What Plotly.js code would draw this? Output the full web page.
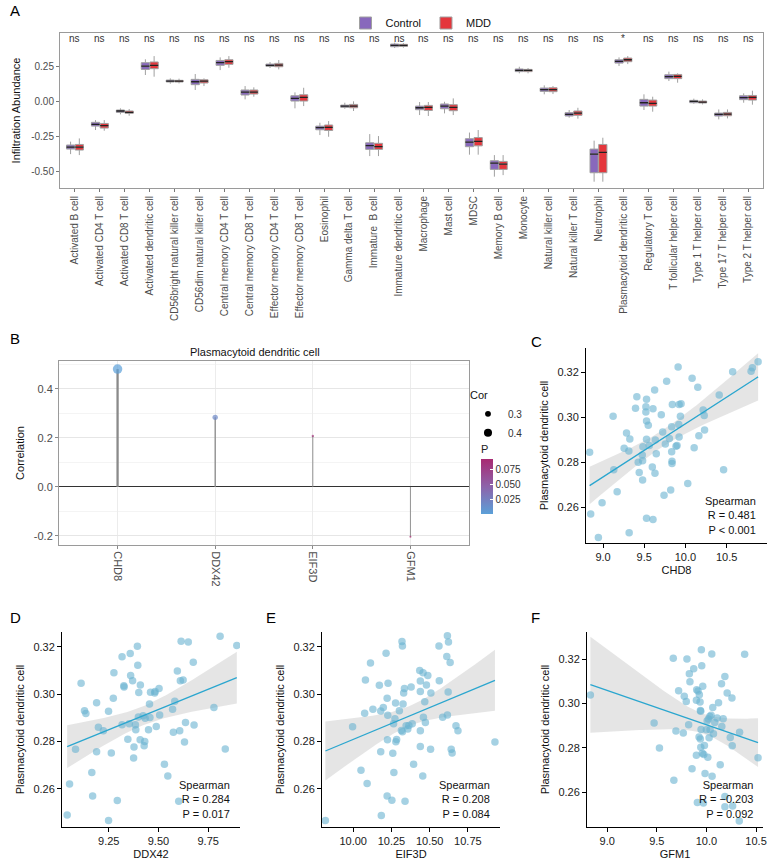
<!DOCTYPE html>
<html>
<head>
<meta charset="utf-8">
<script src="https://cdn.plot.ly/plotly-3.0.1.min.js"></script>
<style>
  html, body { margin: 0; padding: 0; background: #ffffff; }
  #fig { width: 768px; height: 862px; }
</style>
</head>
<body>
<div id="fig"></div>
<script>
// ---------- Panel A: immune infiltration, Control vs MDD ----------
const cellTypes = ["Activated B cell","Activated CD4 T cell","Activated CD8 T cell","Activated dendritic cell",
  "CD56bright natural killer cell","CD56dim natural killer cell","Central memory CD4 T cell","Central memory CD8 T cell",
  "Effector memory CD4 T cell","Effector memory CD8 T cell","Eosinophil","Gamma delta T cell","Immature  B cell",
  "Immature dendritic cell","Macrophage","Mast cell","MDSC","Memory B cell","Monocyte","Natural killer cell",
  "Natural killer T cell","Neutrophil","Plasmacytoid dendritic cell","Regulatory T cell","T follicular helper cell",
  "Type 1 T helper cell","Type 17 T helper cell","Type 2 T helper cell"];

const ctrlLower = [-0.379,-0.207,-0.095,0.186,0.124,0.079,0.221,0.012,0.236,-0.052,-0.243,-0.055,-0.393,0.379,-0.100,-0.088,-0.383,-0.540,0.198,0.048,-0.119,-0.576,0.250,-0.064,0.143,-0.019,-0.131,-0.012];
const ctrlQ1    = [-0.343,-0.179,-0.081,0.226,0.136,0.117,0.255,0.043,0.248,0.000,-0.205,-0.045,-0.345,0.388,-0.062,-0.055,-0.326,-0.488,0.210,0.069,-0.107,-0.512,0.271,-0.036,0.160,-0.012,-0.107,0.010];
const ctrlMed   = [-0.329,-0.167,-0.071,0.250,0.143,0.138,0.274,0.064,0.255,0.019,-0.190,-0.036,-0.319,0.398,-0.048,-0.036,-0.293,-0.443,0.219,0.081,-0.095,-0.379,0.283,-0.012,0.174,-0.002,-0.095,0.024];
const ctrlQ3    = [-0.314,-0.152,-0.064,0.274,0.150,0.155,0.290,0.079,0.264,0.038,-0.179,-0.029,-0.298,0.407,-0.036,-0.021,-0.269,-0.426,0.229,0.093,-0.083,-0.343,0.295,0.012,0.188,0.005,-0.086,0.038];
const ctrlUpper = [-0.290,-0.136,-0.052,0.298,0.162,0.193,0.312,0.107,0.279,0.062,-0.155,-0.012,-0.236,0.417,-0.007,-0.005,-0.225,-0.386,0.245,0.112,-0.064,-0.283,0.312,0.048,0.210,0.017,-0.060,0.055];

const mddLower = [-0.386,-0.212,-0.105,0.174,0.126,0.107,0.238,0.031,0.226,-0.036,-0.255,-0.071,-0.393,0.381,-0.107,-0.100,-0.383,-0.529,0.198,0.050,-0.126,-0.576,0.264,-0.076,0.131,-0.024,-0.124,-0.026];
const mddQ1    = [-0.350,-0.193,-0.088,0.231,0.136,0.129,0.262,0.050,0.245,0.000,-0.210,-0.048,-0.345,0.390,-0.067,-0.069,-0.320,-0.488,0.210,0.067,-0.102,-0.512,0.281,-0.036,0.160,-0.014,-0.105,0.007];
const mddMed   = [-0.329,-0.176,-0.081,0.255,0.143,0.143,0.281,0.064,0.257,0.026,-0.188,-0.036,-0.326,0.398,-0.045,-0.045,-0.288,-0.450,0.219,0.081,-0.086,-0.367,0.295,-0.017,0.176,-0.007,-0.093,0.026];
const mddQ3    = [-0.310,-0.160,-0.071,0.279,0.148,0.152,0.295,0.079,0.269,0.045,-0.171,-0.024,-0.302,0.405,-0.031,-0.026,-0.261,-0.431,0.226,0.095,-0.071,-0.310,0.307,0.007,0.190,0.000,-0.081,0.040];
const mddUpper = [-0.267,-0.136,-0.057,0.321,0.160,0.162,0.321,0.098,0.293,0.095,-0.143,-0.002,-0.250,0.414,-0.007,0.019,-0.207,-0.386,0.236,0.107,-0.048,-0.262,0.321,0.031,0.198,0.012,-0.060,0.074];

const sigLabels = ["ns","ns","ns","ns","ns","ns","ns","ns","ns","ns","ns","ns","ns","ns","ns","ns","ns","ns","ns","ns","ns","ns","*","ns","ns","ns","ns","ns"];

// ---------- Panel B: lollipop of gene correlations ----------
const genes = ["CHD8","DDX42","EIF3D","GFM1"];
const corValues = [0.481, 0.284, 0.208, -0.203];
const pValues = [0.00003, 0.017, 0.084, 0.092];
const corLegendValues = [0.3, 0.4];

// ---------- Panels C-F: pDC abundance vs gene expression ----------
const chd8X = [8.837,8.850,8.943,8.988,9.122,9.130,9.171,9.256,9.285,9.313,9.325,9.317,9.394,9.410,9.427,9.439,9.476,9.480,9.480,9.484,
  9.520,9.520,9.528,9.528,9.528,9.528,9.549,9.561,9.598,9.606,9.606,9.626,9.634,9.630,9.646,9.707,9.724,9.740,9.756,9.772,
  9.805,9.821,9.833,9.833,9.837,9.837,9.841,9.886,9.898,9.911,9.919,9.923,9.923,9.939,9.947,10.028,10.081,10.106,10.150,10.163,
  10.215,10.228,10.232,10.410,10.463,10.573,10.797,10.813,10.882];
const chd8Y = [0.2843,0.2569,0.2464,0.2619,0.3003,0.2766,0.2668,0.2861,0.2929,0.2849,0.2902,0.2486,0.3039,0.3090,0.2799,0.2754,0.2831,0.2806,0.2720,0.2868,
  0.3046,0.3022,0.3079,0.2982,0.2901,0.2550,0.2963,0.2873,0.2778,0.3037,0.2545,0.3120,0.2898,0.2750,0.2837,0.3010,0.2933,0.2652,0.2880,0.3159,
  0.2905,0.2676,0.2846,0.2957,0.2804,0.2794,0.3056,0.2870,0.2874,0.3222,0.2967,0.3056,0.2911,0.3004,0.3059,0.2704,0.3172,0.2864,0.3133,0.2917,
  0.3031,0.3007,0.2942,0.3098,0.2766,0.3201,0.3204,0.3219,0.3246];

const ddx42X = [9.041,9.053,9.083,9.111,9.128,9.135,9.169,9.165,9.189,9.189,9.198,9.223,9.249,9.249,9.263,9.273,9.276,9.293,9.317,9.317,
  9.326,9.327,9.346,9.353,9.358,9.360,9.370,9.377,9.375,9.384,9.386,9.394,9.396,9.401,9.399,9.408,9.409,9.423,9.428,9.431,
  9.433,9.450,9.455,9.457,9.460,9.481,9.483,9.489,9.503,9.506,9.530,9.547,9.571,9.575,9.582,9.595,9.602,9.607,9.610,9.614,
  9.624,9.631,9.636,9.650,9.675,9.679,9.779,9.810,9.836,9.894];
const ddx42Y = [0.2490,0.2621,0.2768,0.3046,0.2930,0.2919,0.2570,0.2669,0.2964,0.2757,0.2861,0.2846,0.2466,0.2928,0.2752,0.2983,0.3091,0.2551,0.3158,0.2871,
  0.3036,0.3031,0.2810,0.2875,0.3172,0.3079,0.3057,0.2777,0.2731,0.2871,0.2850,0.3203,0.3122,0.3007,0.2904,0.2808,0.3039,0.2909,0.2782,0.2800,
  0.2899,0.2850,0.2959,0.2902,0.3008,0.3005,0.3012,0.2864,0.3024,0.2912,0.2704,0.2654,0.2937,0.2839,0.2970,0.3098,0.2548,0.2846,0.3057,0.3224,
  0.3060,0.2798,0.2881,0.3221,0.3135,0.2870,0.2944,0.3245,0.2769,0.3206];

const eif3dX = [9.818,9.996,10.051,10.075,10.080,10.091,10.113,10.129,10.171,10.180,10.180,10.184,10.197,10.215,10.222,10.224,10.222,10.226,10.228,10.253,
  10.259,10.264,10.266,10.273,10.277,10.279,10.284,10.302,10.315,10.319,10.322,10.322,10.326,10.330,10.335,10.339,10.346,10.357,10.364,10.379,
  10.386,10.395,10.435,10.439,10.439,10.439,10.439,10.455,10.457,10.459,10.468,10.472,10.479,10.488,10.506,10.508,10.561,10.563,10.585,10.612,
  10.616,10.616,10.621,10.623,10.634,10.641,10.647,10.672,10.685,10.927];
const eif3dY = [0.2466,0.2863,0.2679,0.2920,0.3060,0.2623,0.3132,0.2937,0.3038,0.2929,0.2757,0.2488,0.2944,0.3173,0.2983,0.2808,0.2570,0.2911,0.3046,0.2552,
  0.2751,0.2875,0.2669,0.2896,0.2963,0.2799,0.2809,0.2930,0.2847,0.3223,0.3204,0.2841,0.2959,0.3005,0.3024,0.2548,0.2867,0.2853,0.2868,0.3031,
  0.2875,0.2704,0.3100,0.3056,0.3012,0.2846,0.2779,0.2654,0.3091,0.2903,0.2968,0.2881,0.3039,0.3079,0.2768,0.3005,0.3204,0.3057,0.2903,0.3159,
  0.3247,0.2912,0.3009,0.3221,0.3134,0.2768,0.2752,0.2867,0.2846,0.2798];

const gfm1X = [8.831,9.473,9.527,9.666,9.672,9.693,9.720,9.767,9.777,9.797,9.804,9.821,9.828,9.834,9.855,9.872,9.899,9.902,9.899,9.909,
  9.916,9.926,9.929,9.936,9.939,9.939,9.943,9.943,9.946,9.949,9.953,9.959,9.963,9.970,9.973,9.980,9.986,10.000,10.007,10.014,
  10.020,10.027,10.034,10.037,10.047,10.054,10.057,10.064,10.071,10.084,10.108,10.122,10.139,10.152,10.155,10.169,10.186,10.186,10.186,10.209,
  10.240,10.257,10.260,10.264,10.331,10.334,10.385,10.520];
const gfm1Y = [0.3039,0.2912,0.2799,0.3205,0.2654,0.2876,0.3058,0.2867,0.3033,0.3010,0.3202,0.2905,0.3135,0.3099,0.2706,0.3158,0.3015,0.3063,0.2767,0.2553,
  0.3057,0.2849,0.3040,0.3007,0.2969,0.2840,0.2966,0.2803,0.2883,0.3244,0.3171,0.2776,0.3079,0.2550,0.2770,0.2811,0.2684,0.2882,0.2921,0.2758,
  0.2930,0.2846,0.2942,0.2882,0.2948,0.3224,0.2671,0.2983,0.2864,0.2915,0.2935,0.3004,0.2724,0.3090,0.2897,0.2932,0.2580,0.2534,0.3123,0.3048,
  0.2847,0.3025,0.2810,0.2537,0.2469,0.2871,0.3223,0.2755];

const spearmanR = ["0.481", "0.284", "0.208", "\u22120.203"];
const spearmanP = ["P < 0.001", "P = 0.017", "P = 0.084", "P = 0.092"];

// ---------- helpers ----------
const W = 768, H = 862;
const FONT = "Liberation Sans, Arial, sans-serif";
const px = v => v / W;
const py = v => 1 - v / H;

// ordinary least squares with a 95% confidence band for the fitted mean
function linearFit(xs, ys, nGrid) {
  const n = xs.length;
  const mx = xs.reduce((a, b) => a + b, 0) / n;
  const my = ys.reduce((a, b) => a + b, 0) / n;
  let sxx = 0, sxy = 0;
  for (let i = 0; i < n; i++) { sxx += (xs[i] - mx) ** 2; sxy += (xs[i] - mx) * (ys[i] - my); }
  const b = sxy / sxx, a = my - b * mx;
  let sse = 0;
  for (let i = 0; i < n; i++) sse += (ys[i] - a - b * xs[i]) ** 2;
  const s = Math.sqrt(sse / (n - 2));
  const df = n - 2;
  const tCrit = 1.96 + 2.4 / df;
  const lo = Math.min(...xs), hi = Math.max(...xs);
  const gx = [], fit = [], up = [], dn = [];
  for (let k = 0; k < nGrid; k++) {
    const x = lo + (hi - lo) * k / (nGrid - 1);
    const f = a + b * x;
    const se = s * Math.sqrt(1 / n + (x - mx) ** 2 / sxx);
    gx.push(x); fit.push(f); up.push(f + tCrit * se); dn.push(f - tCrit * se);
  }
  return { gx, fit, up, dn };
}

const traces = [];

// ---------- Panel A traces ----------
const groupSpecs = [
  { name: "Control", fill: "#8868BC", lo: ctrlLower, q1: ctrlQ1, med: ctrlMed, q3: ctrlQ3, hi: ctrlUpper },
  { name: "MDD", fill: "#E4363C", lo: mddLower, q1: mddQ1, med: mddMed, q3: mddQ3, hi: mddUpper }
];
groupSpecs.forEach(g => {
  traces.push({
    type: "box", name: g.name, x: cellTypes,
    lowerfence: g.lo, q1: g.q1, median: g.med, q3: g.q3, upperfence: g.hi,
    offsetgroup: g.name, fillcolor: g.fill,
    line: { color: "#a0a0a0", width: 1 }, whiskerwidth: 0,
    xaxis: "x", yaxis: "y", legend: "legend", hoverinfo: "skip"
  });
});
// median bars drawn in a darker stroke on top of each box
groupSpecs.forEach(g => {
  traces.push({
    type: "box", name: g.name + " median", x: cellTypes,
    lowerfence: g.med, q1: g.med, median: g.med, q3: g.med, upperfence: g.med,
    offsetgroup: g.name, fillcolor: "rgba(0,0,0,0)",
    line: { color: "#222222", width: 1.3 }, whiskerwidth: 0,
    xaxis: "x", yaxis: "y", showlegend: false, hoverinfo: "skip"
  });
});

// ---------- Panel B traces ----------
const absCor = corValues.map(Math.abs);
const cMin = Math.min(...absCor), cMax = Math.max(...absCor);
const dMin = 2, dMax = 9.5;
const sizeOf = c => Math.sqrt(dMin * dMin + (dMax * dMax - dMin * dMin) * (Math.abs(c) - cMin) / (cMax - cMin));
const stemWidth = c => 0.9 + 1.4 * (Math.abs(c) - cMin) / (cMax - cMin);

genes.forEach((gname, i) => {
  traces.push({
    type: "scatter", mode: "lines", x: [gname, gname], y: [0, corValues[i]],
    line: { color: "#8a8a8a", width: stemWidth(corValues[i]) },
    xaxis: "x2", yaxis: "y2", showlegend: false, hoverinfo: "skip"
  });
});
const pScale = [[0, "#5BA0D8"], [0.5, "#8D63AA"], [1, "#A82A72"]];
traces.push({
  type: "scatter", mode: "markers", x: genes, y: corValues,
  marker: {
    size: corValues.map(sizeOf), color: pValues, colorscale: pScale,
    cmin: Math.min(...pValues), cmax: Math.max(...pValues), line: { width: 0 },
    colorbar: {
      title: { text: "P", side: "top", font: { family: FONT, size: 11, color: "#222" } },
      x: px(481), xanchor: "left", y: py(514), yanchor: "bottom",
      len: 72, lenmode: "pixels", thickness: 12, thicknessmode: "pixels",
      outlinewidth: 0, tickvals: [0.025, 0.05, 0.075], ticktext: ["0.025", "0.050", "0.075"],
      ticks: "inside", ticklen: 3, tickcolor: "#ffffff",
      tickfont: { family: FONT, size: 10, color: "#333" }, xpad: 0, ypad: 0
    }
  },
  xaxis: "x2", yaxis: "y2", showlegend: false, hoverinfo: "skip"
});
corLegendValues.forEach(v => {
  traces.push({
    type: "scatter", mode: "markers", x: [null], y: [null], name: v.toFixed(1),
    marker: { size: sizeOf(v), color: "#000000" },
    xaxis: "x2", yaxis: "y2", legend: "legend2", hoverinfo: "skip"
  });
});

// ---------- Panels C-F traces ----------
const scatterPanels = [
  { xs: chd8X, ys: chd8Y, ax: "3" },
  { xs: ddx42X, ys: ddx42Y, ax: "4" },
  { xs: eif3dX, ys: eif3dY, ax: "5" },
  { xs: gfm1X, ys: gfm1Y, ax: "6" }
];
scatterPanels.forEach(p => {
  const fit = linearFit(p.xs, p.ys, 80);
  traces.push({
    type: "scatter", mode: "lines",
    x: fit.gx.concat(fit.gx.slice().reverse()),
    y: fit.up.concat(fit.dn.slice().reverse()),
    fill: "toself", fillcolor: "rgba(190,190,190,0.4)", line: { width: 0 },
    xaxis: "x" + p.ax, yaxis: "y" + p.ax, showlegend: false, hoverinfo: "skip"
  });
  traces.push({
    type: "scatter", mode: "markers", x: p.xs, y: p.ys,
    marker: { size: 7.5, color: "rgba(105,178,208,0.6)", line: { width: 0 } },
    xaxis: "x" + p.ax, yaxis: "y" + p.ax, showlegend: false, hoverinfo: "skip"
  });
  traces.push({
    type: "scatter", mode: "lines", x: fit.gx, y: fit.fit,
    line: { color: "#2AA6CF", width: 1.3 },
    xaxis: "x" + p.ax, yaxis: "y" + p.ax, showlegend: false, hoverinfo: "skip"
  });
});

// ---------- layout ----------
const tickGray = { family: FONT, size: 10, color: "#4d4d4d" };
const tickDark = { family: FONT, size: 11, color: "#1a1a1a" };
const titleFont = { family: FONT, size: 11, color: "#111" };

function classicX(domain, range, tickvals, fmt, title) {
  return {
    domain, range, tickvals, ticktext: tickvals.map(v => v.toFixed(fmt)),
    showline: true, linecolor: "#000", linewidth: 1, ticks: "outside", ticklen: 4, tickcolor: "#000",
    showgrid: false, zeroline: false, tickfont: tickDark,
    title: { text: title, font: titleFont, standoff: 4 }
  };
}
function classicY(domain, range) {
  const tv = [0.26, 0.28, 0.30, 0.32];
  return {
    domain, range, tickvals: tv, ticktext: tv.map(v => v.toFixed(2)),
    showline: true, linecolor: "#000", linewidth: 1, ticks: "outside", ticklen: 4, tickcolor: "#000",
    showgrid: false, zeroline: false, tickfont: tickDark,
    title: { text: "Plasmacytoid dendritic cell", font: titleFont, standoff: 6 }
  };
}

const annotations = [];
// panel letters
[["A", 8, 11], ["B", 8, 339], ["C", 529, 341], ["D", 8, 617], ["E", 264, 617], ["F", 529, 617]].forEach(l => {
  annotations.push({
    text: l[0], xref: "paper", yref: "paper", x: px(l[1]), y: py(l[2]),
    xanchor: "left", yanchor: "middle", showarrow: false,
    font: { family: FONT, size: 15, color: "#000" }
  });
});
// significance marks above each pair of boxes
cellTypes.forEach((c, i) => {
  annotations.push({
    text: sigLabels[i], xref: "x", yref: "y domain", x: c, y: 0.962,
    xanchor: "center", yanchor: "middle", showarrow: false,
    font: { family: FONT, size: 10, color: "#333" }
  });
});
// lollipop title
annotations.push({
  text: "Plasmacytoid dendritic cell", xref: "paper", yref: "paper", x: px(255), y: py(352),
  xanchor: "center", yanchor: "middle", showarrow: false, font: { family: FONT, size: 11, color: "#111" }
});
// Spearman statistics
scatterPanels.forEach((p, i) => {
  annotations.push({
    text: "Spearman<br>R = " + spearmanR[i] + "<br>" + spearmanP[i],
    xref: "x" + p.ax + " domain", yref: "y" + p.ax + " domain",
    x: i === 0 ? 0.95 : 0.955, y: 0.025, xanchor: "right", yanchor: "bottom", align: "right",
    showarrow: false, font: { family: FONT, size: 11, color: "#111" }
  });
});

const layout = {
  width: W, height: H, autosize: false,
  margin: { l: 0, r: 0, t: 0, b: 0 },
  paper_bgcolor: "#ffffff", plot_bgcolor: "#ffffff",
  font: { family: FONT, size: 11, color: "#111" },
  boxmode: "group", boxgap: 0.3, boxgroupgap: 0.06,
  showlegend: true,
  legend: {
    orientation: "h", x: px(421), xanchor: "center", y: py(23), yanchor: "middle",
    font: { family: FONT, size: 11, color: "#111" }, bgcolor: "rgba(0,0,0,0)", itemwidth: 30
  },
  legend2: {
    title: { text: "Cor", font: { family: FONT, size: 11, color: "#111" } },
    x: px(468), xanchor: "left", y: py(385), yanchor: "top",
    font: { family: FONT, size: 10, color: "#333" }, bgcolor: "rgba(0,0,0,0)",
    tracegroupgap: 0, itemwidth: 30
  },
  // Panel A axes
  xaxis: {
    domain: [px(60), px(763)], type: "category", categoryorder: "array", categoryarray: cellTypes,
    range: [-0.6, 27.6], tickangle: -90, tickfont: tickGray, ticks: "outside", ticklen: 3, tickcolor: "#777",
    showline: true, mirror: true, linecolor: "#9a9a9a", linewidth: 1, showgrid: false, zeroline: false
  },
  yaxis: {
    domain: [py(188), py(33)], range: [-0.621, 0.486], tickvals: [-0.5, -0.25, 0, 0.25],
    ticktext: ["-0.50", "-0.25", "0.00", "0.25"], tickfont: tickGray, ticks: "outside", ticklen: 3, tickcolor: "#777",
    showline: true, mirror: true, linecolor: "#9a9a9a", linewidth: 1, showgrid: false, zeroline: false,
    title: { text: "Infiltration Abundance", font: titleFont, standoff: 8 }
  },
  // Panel B axes
  xaxis2: {
    domain: [px(59), px(469)], type: "category", categoryorder: "array", categoryarray: genes,
    range: [-0.6, 3.6], tickangle: 90, tickfont: { family: FONT, size: 11, color: "#4d4d4d" },
    ticks: "outside", ticklen: 3, tickcolor: "#888",
    showline: true, mirror: true, linecolor: "#9a9a9a", showgrid: true, gridcolor: "#ececec", zeroline: false
  },
  yaxis2: {
    domain: [py(545), py(361)], range: [-0.237, 0.514], tickvals: [-0.2, 0, 0.2, 0.4],
    ticktext: ["-0.2", "0.0", "0.2", "0.4"], tickfont: { family: FONT, size: 11, color: "#4d4d4d" },
    ticks: "outside", ticklen: 3, tickcolor: "#888",
    showline: true, mirror: true, linecolor: "#9a9a9a", showgrid: true, gridcolor: "#e6e6e6",
    minor: { dtick: 0.1, tick0: 0.1, showgrid: true, gridcolor: "#f4f4f4", ticks: "" },
    zeroline: true, zerolinecolor: "#333", zerolinewidth: 1,
    title: { text: "Correlation", font: titleFont, standoff: 6 }
  },
  // Panels C-F axes
  xaxis3: classicX([px(586), px(767)], [8.793, 10.99], [9.0, 9.5, 10.0, 10.5], 1, "CHD8"),
  yaxis3: classicY([py(543), py(348)], [0.244, 0.3307]),
  xaxis4: classicX([px(62), px(240)], [9.015, 9.91], [9.25, 9.5, 9.75], 2, "DDX42"),
  yaxis4: classicY([py(827), py(632)], [0.2439, 0.3263]),
  xaxis5: classicX([px(322), px(500)], [9.796, 10.96], [10.0, 10.25, 10.5, 10.75], 2, "EIF3D"),
  yaxis5: classicY([py(827), py(632)], [0.2439, 0.3263]),
  xaxis6: classicX([px(587), px(763)], [8.797, 10.57], [9.0, 9.5, 10.0, 10.5], 1, "GFM1"),
  yaxis6: classicY([py(827), py(632)], [0.2442, 0.3324]),
  annotations
};
layout.xaxis3.anchor = "y3"; layout.yaxis3.anchor = "x3";
layout.xaxis4.anchor = "y4"; layout.yaxis4.anchor = "x4";
layout.xaxis5.anchor = "y5"; layout.yaxis5.anchor = "x5";
layout.xaxis6.anchor = "y6"; layout.yaxis6.anchor = "x6";
layout.xaxis2.anchor = "y2"; layout.yaxis2.anchor = "x2";

Plotly.newPlot("fig", traces, layout, { displayModeBar: false, staticPlot: true });
</script>
</body>
</html>
